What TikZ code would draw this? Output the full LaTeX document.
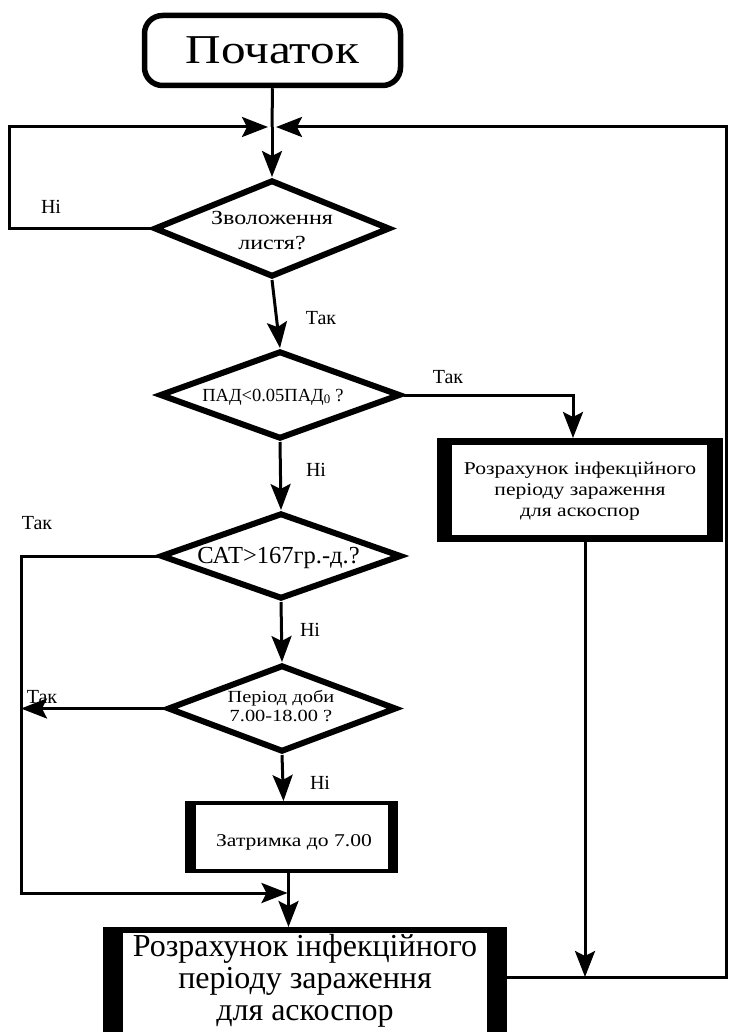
\documentclass[tikz,border=0pt]{standalone}
\usepackage{fontspec}
\setmainfont{Liberation Serif}
\newfontfamily\wfont[FakeStretch=1.2]{Liberation Serif}
\usetikzlibrary{shapes.geometric,arrows.meta}
\tikzset{
  conn/.style={line width=3pt},
  arr/.style={conn,-{Stealth[length=26pt,width=20pt,inset=5pt]}},
  dia/.style={diamond,draw,line width=6pt,inner sep=0pt},
  lab/.style={font=\fontsize{20}{22}\selectfont,inner sep=0pt},
  txt/.style={inner sep=0pt,align=center},
}
\begin{document}
\begin{tikzpicture}[x=1pt,y=-1pt]
\clip (0,0) rectangle (730,1032);
\fill[white] (0,0) rectangle (730,1032);

% start
\node[draw,line width=5.5pt,rounded corners=18pt,minimum width=256pt,minimum height=70pt,inner sep=0pt,
  font=\wfont\fontsize{41}{45}\selectfont] (start) at (272.5,50.5) {Початок};

% diamonds
\node[dia,minimum width=236pt,minimum height=97pt] (d1) at (272,228.5) {};
\node[txt,font=\wfont\fontsize{20}{25}\selectfont] (t1) at (272,230.5) {Зволоження\\листя?};

\node[dia,minimum width=241pt,minimum height=88pt] (d2) at (280,395) {};
\node[txt,font=\fontsize{18.5}{20}\selectfont] (t2) at (273,397) {ПАД<0.05ПАД\textsubscript{0} ?};

\node[dia,minimum width=241pt,minimum height=86pt] (d3) at (281,556) {};
\node[txt,font=\fontsize{24.5}{26}\selectfont] (t3) at (278.5,558) {САТ>167гр.-д.?};

\node[dia,minimum width=229pt,minimum height=87pt] (d4) at (282,708.5) {};
\node[txt,font=\wfont\fontsize{17}{19}\selectfont] (t4) at (281,706) {Період доби\\7.00-18.00 ?};

% right process box
\node[draw,line width=7pt,minimum width=279pt,minimum height=97pt,inner sep=0pt] (R) at (580,490) {};
\fill (R.north west) rectangle ([xshift=15pt]R.south west);
\fill ([xshift=-16pt]R.north east) rectangle (R.south east);
\node[txt,font=\wfont\fontsize{18}{21}\selectfont] (tR) at (580,491) {Розрахунок інфекційного\\періоду зараження\\для аскоспор};

% delay box
\node[draw,line width=4pt,minimum width=209pt,minimum height=68pt,inner sep=0pt] (delay) at (291.5,837) {};
\fill (delay.north west) rectangle ([xshift=11pt]delay.south west);
\fill ([xshift=-10pt]delay.north east) rectangle (delay.south east);
\node[txt,font=\wfont\fontsize{18}{21}\selectfont] (tD) at (294,842) {Затримка до 7.00};

% end box
\node[draw,line width=6pt,minimum width=398pt,minimum height=119pt,inner sep=0pt] (end) at (305,989.5) {};
\fill (end.north west) rectangle ([xshift=20pt]end.south west);
\fill ([xshift=-20pt]end.north east) rectangle (end.south east);
\node[txt,font=\fontsize{32}{32}\selectfont] (tE) at (305,981) {Розрахунок інфекційного\\періоду зараження\\для аскоспор};

% coordinates
\coordinate (J) at (272,127);
\coordinate (lt) at (9,127);
\coordinate (rt) at (726,127);
\coordinate (rb) at (726,977);
\coordinate (lb) at (21,893);

% connectors
\draw[conn] (start.south) -- (J);
\draw[arr] (J) -- (d1.north);
\draw[arr,shorten >=4pt] (d1.west) -| (lt) -- (J);
\draw[arr,shorten >=4pt] (end.east |- rb) -- (rb) -- (rt) -- (J);
\draw[arr] (d1.south) -- (d2.north);
\draw[arr] (d2.east) -| ([xshift=-7pt]R.north);
\draw[arr] ([xshift=5pt]R.south) -- ([xshift=5pt]R.south |- rb);
\draw[arr] (d2.south) -- (d3.north);
\draw[arr,shorten >=1pt] (d3.west) -| (lb) -- ([xshift=-3pt]delay.south |- lb);
\draw[arr] (d3.south) -- (d4.north);
\draw[arr] (d4.west) -- (d4.west -| lb);
\draw[arr] (d4.south) -- ([xshift=-8pt]delay.north);
\draw[arr] ([xshift=-3pt]delay.south) -- ([xshift=-3pt]delay.south |- end.north);

% labels
\node[lab] (l1) at (51,207) {Ні};
\node[lab] (l2) at (321,318) {Так};
\node[lab] (l3) at (448,377) {Так};
\node[lab] (l4) at (316,470) {Ні};
\node[lab] (l5) at (37,523) {Так};
\node[lab] (l6) at (310,630) {Ні};
\node[lab] (l7) at (42,697) {Так};
\node[lab] (l8) at (320,783) {Ні};
\end{tikzpicture}
\end{document}
